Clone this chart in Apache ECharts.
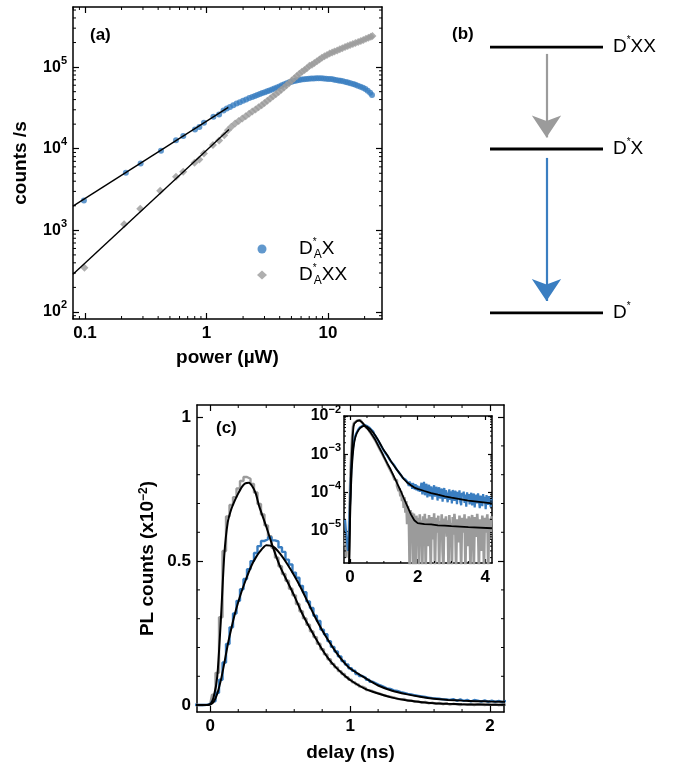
<!DOCTYPE html>
<html><head><meta charset="utf-8">
<script src="https://cdn.jsdelivr.net/npm/echarts@6/dist/echarts.min.js"></script>
<style>html,body{margin:0;padding:0;background:#fff}#c{width:676px;height:766px}</style>
</head><body><div id="c"></div>
<script>
// ---------------- DATA ----------------
// (a) power dependence
const powerBlue = [0.098,0.217,0.287,0.422,0.561,0.644,0.804,0.874,0.953,1.14,1.27,
  1.38,1.47,1.56,1.66,1.77,1.88,2.0,2.12,2.25,2.38,2.5,2.62,2.75,2.88,3.02,3.16,3.3,3.46,3.62,3.8,3.98,4.17,4.37,4.58,4.8,5.03,5.27,5.52,5.78,6.05,6.34,6.64,6.96,7.29,7.64,8.0,8.38,8.78,9.2,9.64,10.1,10.6,11.1,11.6,12.2,12.7,13.3,14.0,14.6,15.3,16.1,16.8,17.6,18.5,19.4,20.3,21.2,22.2,23.0];
const countsBlue = [2320,5070,6600,9420,12700,14300,17200,18500,20800,24600,26300,
  29500,31000,32500,34200,35800,37000,38600,40200,41700,43000,44300,45600,46800,48000,49300,50600,51800,53300,54600,56200,58000,59800,61600,63300,65000,66300,67600,68700,69600,70400,71000,71600,72100,72500,72700,73100,72900,72800,72700,72200,71700,71300,70500,69700,68700,67900,66900,65700,64600,63500,62200,60800,59300,57500,55800,53900,51500,48500,45400];
const powerGray = [0.099,0.21,0.285,0.416,0.561,0.643,0.797,0.873,0.952,1.13,1.27,
  1.4,1.5,1.6,1.72,1.84,1.97,2.1,2.24,2.38,2.53,2.68,2.84,3.0,3.17,3.35,3.53,3.72,3.92,4.12,4.34,4.56,4.79,5.03,5.28,5.54,5.81,6.1,6.4,6.7,7.03,7.37,7.72,8.1,8.5,8.9,9.34,9.8,10.3,10.8,11.3,11.9,12.5,13.1,13.8,14.5,15.2,16.0,16.8,17.7,18.6,19.5,20.5,21.5,22.5,23.2];
const countsGray = [347,1190,1840,3050,4530,5210,6710,7390,8750,11100,12600,
  14600,16800,18600,20400,21800,23400,25000,26800,28500,30300,32300,34200,36400,38800,41300,43900,46600,49600,52800,56200,60000,64000,68500,73000,77800,82700,87500,92300,97000,104000,107000,112000,118000,124000,130000,136000,141000,147000,151000,155000,160000,165000,170000,176000,181000,186000,192000,197000,203000,209000,215000,222000,229000,236000,241000];
const fitPowerBlue = [0.0797, 1.51];
const fitCountsBlue = [1980, 32100];
const fitPowerGray = [0.0797, 1.53];
const fitCountsGray = [289, 17200];
const powerTicks = [0.1, 1, 10];
const countTicks = [100, 1000, 10000, 100000];

// (b) level scheme
const levelNames = ['D*XX', 'D*X', 'D*'];
const levelEnergies = [1, 0.617, 0];
const arrowGray = [0.974, 0.66];
const arrowBlue = [0.583, 0.045];

// (c) time-resolved PL, units of 1e-2, bins from -0.15 ns every 0.025 ns
const delayStart = -0.15, delayStep = 0.025;
const plBlue = [0.002,0.0015,0.0008,0.0005,0.0003,0.0006,
  0.003,0.013,0.043,0.088,0.148,0.212,0.27,0.318,0.362,0.402,
  0.438,0.472,0.5,0.528,0.552,0.57,0.576,0.583,0.572,0.568,
  0.548,0.532,0.505,0.488,0.46,0.442,0.414,0.392,0.36,0.337,
  0.31,0.292,0.262,0.246,0.222,0.202,0.186,0.169,0.153,0.141,
  0.128,0.119,0.108,0.101,0.095,0.088,0.081,0.075,0.069,0.064,
  0.058,0.056,0.051,0.049,0.045,0.042,0.039,0.037,0.034,0.032,
  0.03,0.028,0.026,0.024,0.023,0.022,0.02,0.0195,0.018,0.021,
  0.015,0.0195,0.0145,0.018,0.0125,0.0175,0.0155,0.012,0.0165,0.0115,
  0.0155,0.011,0.0145,0.0105,0.0135,
  0.018,0.009,0.0145,0.019,0.0085,0.0135,0.017,0.0075,0.0125,0.016,
  0.008,0.0145,0.011,0.0065,0.0135,0.0155,0.0078,0.0118,0.0142,0.0062,
  0.0112,0.0138,0.007,0.0098,0.0128,0.0058,0.0105,0.0132,0.0068,0.0115,
  0.0125,0.0056,0.0092,0.0121,0.0064,0.0108,0.0052,0.0117,0.0083,0.0061,
  0.0112,0.0095,0.005,0.0104,0.0072,0.0115,0.0058,0.0047,0.0098,0.0081,
  0.0106,0.0054,0.0089,0.0043,0.0101,0.0068,0.0092,0.0049,0.0085,0.0098,
  0.0046,0.0079,0.0094,0.0041,0.0072,0.0088,0.0052,0.0095,0.0063,0.0039,
  0.0083,0.0069,0.0044,0.0091,0.0057,0.0078,0.0037,0.0086,0.0065,0.0048,
  0.0081,0.0059,0.0042,0.0074];
const plGray = [0.0004,0.0009,0.0002,0.0006,0.0003,0.0008,
  0.005,0.036,0.112,0.305,0.535,0.655,0.695,0.722,0.752,0.778,
  0.792,0.786,0.768,0.738,0.698,0.662,0.624,0.586,0.546,0.512,
  0.482,0.455,0.432,0.404,0.381,0.351,0.326,0.301,0.279,0.256,
  0.236,0.213,0.194,0.176,0.159,0.143,0.131,0.118,0.108,0.097,
  0.088,0.079,0.072,0.064,0.059,0.052,0.048,0.043,0.04,0.035,
  0.032,0.029,0.027,0.022,0.02,0.021,0.015,0.016,0.011,0.013,
  0.008,0.011,0.006,0.0085,0.004,0.0075,0.003,0.006,0.0015,0.0045,
  0.0025,0.0001,0.0035,0.0012,0.003,0.0001,0.0028,0.0018,0.0001,0.0025,
  0.0008,0.0022,0.0001,0.0027,0.0012,
  0.0019,0.0001,0.0024,0.0011,0.0028,0.0001,0.0016,0.0021,0.0004,0.0026,
  0.0013,0.0001,0.0023,0.0017,0.0006,0.0029,0.0001,0.0014,0.0022,0.0009,
  0.0025,0.0001,0.0018,0.0012,0.0027,0.0003,0.0001,0.0021,0.0015,0.0024,
  0.0007,0.0019,0.0001,0.0026,0.0011,0.0016,0.0001,0.0023,0.0008,0.0028,
  0.0014,0.0001,0.002,0.0017,0.0005,0.0025,0.0012,0.0001,0.0022,0.0018,
  0.0009,0.0027,0.0001,0.0015,0.0021,0.0004,0.0024,0.0013,0.0001,0.0019,
  0.0026,0.001,0.0001,0.0023,0.0016,0.0007,0.0028,0.0012,0.0001,0.002,
  0.0017,0.0003,0.0025,0.0014,0.0001,0.0022,0.0009,0.0018,0.0027,0.0001,
  0.0015,0.0021,0.0006,0.0024];
const fitDelay = [-0.15,-0.05,0,0.025,0.05,0.075,0.1,0.125,0.15,0.175,0.2,0.225,0.25,0.275,0.3,0.325,0.35,0.4,0.45,0.5,0.55,0.6,0.65,0.7,0.75,0.8,0.85,0.9,0.95,1.0,1.1,1.2,1.3,1.4,1.5,1.6,1.7,1.8,1.9,2.0,2.2,2.4,2.6,2.8,3.0,3.5,4.2];
const fitPlGray = [0.00001,0.00001,0.004,0.03,0.1,0.29,0.52,0.635,0.68,0.71,0.735,0.757,0.77,0.772,0.76,0.735,0.69,0.62,0.545,0.48,0.43,0.38,0.325,0.278,0.235,0.193,0.158,0.13,0.107,0.087,0.058,0.04,0.026,0.017,0.011,0.0068,0.0043,0.0027,0.0019,0.0016,0.0015,0.00148,0.0014,0.00137,0.00133,0.00125,0.00117];
const fitPlBlue = [0.00001,0.00001,0.002,0.012,0.04,0.085,0.145,0.21,0.265,0.315,0.358,0.396,0.43,0.462,0.49,0.512,0.53,0.555,0.55,0.525,0.49,0.45,0.405,0.355,0.305,0.26,0.22,0.183,0.152,0.127,0.096,0.068,0.05,0.038,0.029,0.022,0.018,0.0155,0.0135,0.0125,0.011,0.0097,0.0088,0.008,0.0074,0.0062,0.0052];
const delayTicks = [0, 1, 2];
const plTicks = [0, 0.5, 1];
const insetDelayTicks = [0, 2, 4];
const insetPlTicks = [1e-5, 1e-4, 1e-3, 1e-2];

// ---------------- STYLE ----------------
const FONT = '"Liberation Sans", Arial, sans-serif';
const BLUE = '#3a7ec1', GRAY = '#9b9b9b', BLACK = '#000';
const mantissas = [2,3,4,5,6,7,8,9];
const logMinor = (decades, lo, hi) => {
  const out = [];
  decades.forEach(d => mantissas.forEach(m => { const v = m * d; if (v > lo && v < hi) out.push(v); }));
  return out;
};

const supRich = (size, ss) => ({
  b: { fontSize: size, fontWeight: 'bold', fontFamily: FONT, color: BLACK, lineHeight: 24 },
  s: { fontSize: ss, fontWeight: 'bold', fontFamily: FONT, color: BLACK, verticalAlign: 'top', lineHeight: 13 }
});
const supFmt = v => { const e = Math.round(Math.log10(v)); return '{b|10}{s|' + (e < 0 ? '\u2212' + (-e) : e) + '}'; };

function axisBase(type, gridIndex, position, min, max, ticks, tickLen, showLabel, labelOpt) {
  return {
    type, gridIndex, position, min, max,
    axisLine: { show: true, onZero: false, lineStyle: { color: BLACK, width: 1.5 } },
    axisTick: { show: true, inside: true, length: tickLen, customValues: ticks, lineStyle: { color: BLACK, width: 1.2 } },
    axisLabel: Object.assign({ show: showLabel, customValues: ticks, color: BLACK, fontWeight: 'bold', fontSize: 17, fontFamily: FONT, margin: 6 }, labelOpt || {}),
    splitLine: { show: false },
    minorTick: { show: false }
  };
}
const nameStyle = { color: BLACK, fontWeight: 'bold', fontSize: 19, fontFamily: FONT };

function minorTicks(xi, yi, dir, values, ref, len) {
  return {
    type: 'custom', xAxisIndex: xi, yAxisIndex: yi, silent: true, z: 10, clip: false,
    data: values.map(v => dir === 'x' ? [v, ref] : [ref, v]),
    renderItem: (params, api) => {
      const cs = params.coordSys;
      const p = api.coord([api.value(0), api.value(1)]);
      const st = { stroke: BLACK, lineWidth: 1 };
      if (dir === 'x') {
        const b = cs.y + cs.height;
        return { type: 'group', children: [
          { type: 'line', shape: { x1: p[0], y1: b, x2: p[0], y2: b - len }, style: st },
          { type: 'line', shape: { x1: p[0], y1: cs.y, x2: p[0], y2: cs.y + len }, style: st }
        ]};
      }
      const r = cs.x + cs.width;
      return { type: 'group', children: [
        { type: 'line', shape: { x1: cs.x, y1: p[1], x2: cs.x + len, y2: p[1] }, style: st },
        { type: 'line', shape: { x1: r, y1: p[1], x2: r - len, y2: p[1] }, style: st }
      ]};
    }
  };
}

// ---------------- BUILD ----------------
const A = { xmin: 0.0797, xmax: 27.8, ymin: 82, ymax: 545000 };
const C = { xmin: -0.095, xmax: 2.1, ymin: -0.024, ymax: 1.042 };
const I = { xmin: -0.18, xmax: 4.2, ymin: 1.45e-6, ymax: 1e-2 };

const times = plBlue.map((_, i) => +(delayStart + i * delayStep).toFixed(4));
const pairs = (xs, ys, k) => xs.map((x, i) => [x, ys[i] * (k || 1)]);

const grids = [
  { left: 73, top: 7, width: 309, height: 312 },
  { left: 490, top: 47, width: 113, height: 266 },
  { left: 197, top: 405, width: 307, height: 307 },
  { left: 344, top: 416, width: 148, height: 147 }
];

const xAxis = [
  Object.assign(axisBase('log', 0, 'bottom', A.xmin, A.xmax, powerTicks, 6, true, { formatter: v => String(v) }),
    { name: 'power (\u00b5W)', nameLocation: 'middle', nameGap: 29, nameTextStyle: nameStyle }),
  axisBase('log', 0, 'top', A.xmin, A.xmax, powerTicks, 6, false),
  { type: 'value', gridIndex: 1, min: 0, max: 1, show: false },
  Object.assign(axisBase('value', 2, 'bottom', C.xmin, C.xmax, delayTicks, 6, true, { formatter: v => String(v) }),
    { name: 'delay (ns)', nameLocation: 'middle', nameGap: 31, nameTextStyle: nameStyle }),
  axisBase('value', 2, 'top', C.xmin, C.xmax, delayTicks, 6, false),
  axisBase('value', 3, 'bottom', I.xmin, I.xmax, insetDelayTicks, 4, true, { formatter: v => String(v), margin: 6 }),
  axisBase('value', 3, 'top', I.xmin, I.xmax, insetDelayTicks, 4, false)
];
const yAxis = [
  Object.assign(axisBase('log', 0, 'left', A.ymin, A.ymax, countTicks, 6, true, { formatter: supFmt, rich: supRich(16, 11) }),
    { name: 'counts /s', nameLocation: 'middle', nameGap: 43, nameTextStyle: nameStyle }),
  axisBase('log', 0, 'right', A.ymin, A.ymax, countTicks, 6, false),
  { type: 'value', gridIndex: 1, min: 0, max: 1, show: false },
  Object.assign(axisBase('value', 2, 'left', C.ymin, C.ymax, plTicks, 6, true, { formatter: v => String(v) }),
    { name: '{n|PL counts (x10}{s|\u22122}{n|)}', nameLocation: 'middle', nameGap: 40,
      nameTextStyle: Object.assign({}, nameStyle, { rich: {
        n: nameStyle,
        s: { fontSize: 12, fontWeight: 'bold', fontFamily: FONT, color: BLACK, verticalAlign: 'top', lineHeight: 12 } } }) }),
  axisBase('value', 2, 'right', C.ymin, C.ymax, plTicks, 6, false),
  axisBase('log', 3, 'left', I.ymin, I.ymax, insetPlTicks, 4, true, { formatter: supFmt, rich: supRich(16, 11), margin: 3 }),
  axisBase('log', 3, 'right', I.ymin, I.ymax, insetPlTicks, 4, false)
];

const levelRich = {
  d: { fontSize: 19, fontFamily: FONT, color: BLACK, lineHeight: 24 },
  s: { fontSize: 10, fontFamily: FONT, color: BLACK, verticalAlign: 'top', lineHeight: 12 }
};
const levelFmt = n => '{d|D}{s|*}{d|' + n.slice(2) + '}';

const legendRich = {
  d: { fontSize: 19, fontFamily: FONT, color: BLACK, lineHeight: 24 },
  s: { fontSize: 10, fontFamily: FONT, color: BLACK, verticalAlign: 'top', lineHeight: 12, width: 1 },
  a: { fontSize: 12, fontFamily: FONT, color: BLACK, verticalAlign: 'bottom', lineHeight: 12 }
};

const series = [
  // (a)
  { name: 'DAX', type: 'scatter', xAxisIndex: 0, yAxisIndex: 0, symbol: 'circle', symbolSize: 6,
    itemStyle: { color: BLUE }, data: pairs(powerBlue, countsBlue) },
  { name: 'DAXX', type: 'scatter', xAxisIndex: 0, yAxisIndex: 0, symbol: 'diamond', symbolSize: 8,
    itemStyle: { color: GRAY }, data: pairs(powerGray, countsGray) },
  { type: 'line', xAxisIndex: 0, yAxisIndex: 0, showSymbol: false, symbol: 'none', lineStyle: { color: BLACK, width: 1.4 },
    data: pairs(fitPowerBlue, fitCountsBlue), z: 4 },
  { type: 'line', xAxisIndex: 0, yAxisIndex: 0, showSymbol: false, symbol: 'none', lineStyle: { color: BLACK, width: 1.4 },
    data: pairs(fitPowerGray, fitCountsGray), z: 4 },
  minorTicks(0, 0, 'x', logMinor([0.01, 0.1, 1, 10], A.xmin, A.xmax), 1000, 3),
  minorTicks(0, 0, 'y', logMinor([10, 100, 1000, 10000, 100000], A.ymin, A.ymax), 1, 3),
  // (b)
  ...levelNames.map((n, i) => ({
    type: 'line', xAxisIndex: 2, yAxisIndex: 2, symbol: 'none', lineStyle: { color: BLACK, width: 3 },
    data: [[0, levelEnergies[i]], [1, levelEnergies[i]]],
    endLabel: { show: true, distance: 10, formatter: () => levelFmt(n), rich: levelRich }
  })),
  { type: 'lines', coordinateSystem: 'cartesian2d', xAxisIndex: 2, yAxisIndex: 2,
    symbol: ['none', 'arrow'], symbolSize: [14, 22],
    lineStyle: { color: GRAY, width: 2.2, opacity: 1 },
    data: [{ coords: [[0.5, arrowGray[0]], [0.5, arrowGray[1]]] }] },
  { type: 'lines', coordinateSystem: 'cartesian2d', xAxisIndex: 2, yAxisIndex: 2,
    symbol: ['none', 'arrow'], symbolSize: [14, 22],
    lineStyle: { color: BLUE, width: 2.2, opacity: 1 },
    data: [{ coords: [[0.5, arrowBlue[0]], [0.5, arrowBlue[1]]] }] },
  // (c) main
  { type: 'line', xAxisIndex: 3, yAxisIndex: 3, step: 'middle', symbol: 'none', lineStyle: { color: GRAY, width: 2.4 },
    data: pairs(times, plGray) },
  { type: 'line', xAxisIndex: 3, yAxisIndex: 3, step: 'middle', symbol: 'none', lineStyle: { color: BLUE, width: 2.4 },
    data: pairs(times, plBlue) },
  { type: 'line', xAxisIndex: 3, yAxisIndex: 3, symbol: 'none', smooth: 0.2, lineStyle: { color: BLACK, width: 2 },
    data: pairs(fitDelay, fitPlGray) },
  { type: 'line', xAxisIndex: 3, yAxisIndex: 3, symbol: 'none', smooth: 0.2, lineStyle: { color: BLACK, width: 2 },
    data: pairs(fitDelay, fitPlBlue) },
  minorTicks(3, 3, 'x', [0.2,0.4,0.6,0.8,1.2,1.4,1.6,1.8], 0.5, 3),
  minorTicks(3, 3, 'y', [0.1,0.2,0.3,0.4,0.6,0.7,0.8,0.9], 0.5, 3),
  // (c) inset
  { type: 'line', xAxisIndex: 5, yAxisIndex: 5, step: 'middle', symbol: 'none', lineStyle: { color: GRAY, width: 2.6 },
    data: pairs(times, plGray, 1e-2) },
  { type: 'line', xAxisIndex: 5, yAxisIndex: 5, step: 'middle', symbol: 'none', lineStyle: { color: BLUE, width: 2.2 },
    data: pairs(times, plBlue, 1e-2) },
  { type: 'line', xAxisIndex: 5, yAxisIndex: 5, symbol: 'none', lineStyle: { color: BLACK, width: 1.8 },
    data: pairs(fitDelay, fitPlGray, 1e-2) },
  { type: 'line', xAxisIndex: 5, yAxisIndex: 5, symbol: 'none', lineStyle: { color: BLACK, width: 1.8 },
    data: pairs(fitDelay, fitPlBlue, 1e-2) },
  minorTicks(5, 5, 'x', [0.5,1,1.5,2.5,3,3.5], 1e-4, 2),
  minorTicks(5, 5, 'y', logMinor([1e-6, 1e-5, 1e-4, 1e-3], I.ymin, I.ymax), 1, 2)
];

const chart = echarts.init(document.getElementById('c'), null, { renderer: 'canvas' });
chart.setOption({
  animation: false,
  backgroundColor: '#fff',
  grid: grids,
  xAxis, yAxis, series,
  legend: {
    data: ['DAX', 'DAXX'], orient: 'vertical', left: 257, top: 237, padding: 0, itemGap: 2,
    itemWidth: 10, itemHeight: 9, selectedMode: false,
    formatter: n => n === 'DAX' ? '{d|D}{s|*}{a|A}{d|X}' : '{d|D}{s|*}{a|A}{d|XX}',
    textStyle: { padding: [0, 0, 0, 27], rich: legendRich }
  },
  graphic: [
    { type: 'text', left: 90, top: 27, style: { text: '(a)', font: 'bold 17px ' + FONT, fill: BLACK } },
    { type: 'text', left: 452, top: 26, style: { text: '(b)', font: 'bold 17px ' + FONT, fill: BLACK } },
    { type: 'text', left: 216, top: 420, style: { text: '(c)', font: 'bold 17px ' + FONT, fill: BLACK } }
  ]
});
</script></body></html>
